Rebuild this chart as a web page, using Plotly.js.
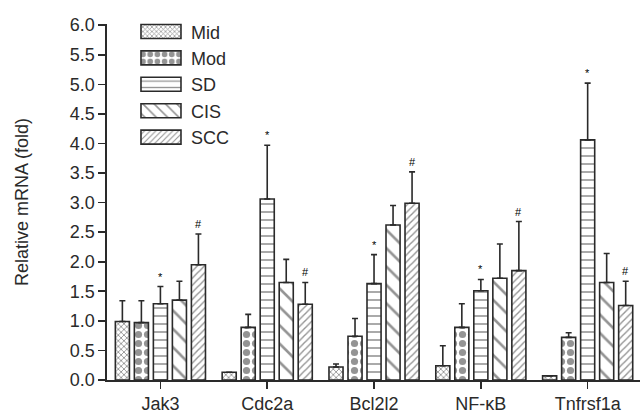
<!DOCTYPE html>
<html>
<head>
<meta charset="utf-8">
<script src="https://cdn.plot.ly/plotly-3.0.1.min.js"></script>
<style>html,body{margin:0;padding:0;background:#fff;}#chart{width:640px;height:413px;}</style>
</head>
<body>
<div id="chart"></div>
<script>
const categories = ["Jak3", "Cdc2a", "Bcl2l2", "NF-κB", "Tnfrsf1a"];
const seriesNames = ["Mid", "Mod", "SD", "CIS", "SCC"];
const midVals = [0.99, 0.13, 0.22, 0.24, 0.07];
const midErr  = [0.35, 0.00, 0.05, 0.34, 0.00];
const modVals = [0.97, 0.89, 0.74, 0.89, 0.72];
const modErr  = [0.37, 0.22, 0.30, 0.40, 0.08];
const sdVals  = [1.29, 3.06, 1.63, 1.51, 4.06];
const sdErr   = [0.29, 0.91, 0.49, 0.19, 0.96];
const cisVals = [1.35, 1.65, 2.62, 1.72, 1.65];
const cisErr  = [0.32, 0.39, 0.33, 0.58, 0.49];
const sccVals = [1.95, 1.28, 2.99, 1.85, 1.26];
const sccErr  = [0.52, 0.37, 0.53, 0.83, 0.41];
const sdMarks  = ["*", "*", "*", "*", "*"];
const sccMarks = ["#", "#", "#", "#", "#"];
const yTicks = [0, 0.5, 1, 1.5, 2, 2.5, 3, 3.5, 4, 4.5, 5, 5.5, 6];

const values = [midVals, modVals, sdVals, cisVals, sccVals];
const errs = [midErr, modErr, sdErr, cisErr, sccErr];
const patterns = [
  {shape: "x", size: 4, solidity: 0.4},
  {shape: ".", size: 9, solidity: 0.5},
  {shape: "-", size: 8, solidity: 0.2},
  {shape: "\\", size: 13, solidity: 0.2},
  {shape: "/", size: 5, solidity: 0.28}
];
const ink = "#2a2a2a";
const bargap = 0.11;

const data = seriesNames.map((name, i) => ({
  type: "bar",
  name: name,
  x: categories,
  y: values[i],
  marker: {
    color: "#ffffff",
    line: {color: ink, width: 1.6},
    pattern: Object.assign({fgcolor: ink, bgcolor: "#ffffff", fillmode: "overlay"}, patterns[i])
  },
  error_y: {
    type: "data", symmetric: false, array: errs[i],
    arrayminus: errs[i].map(() => 0),
    color: ink, thickness: 1.6, width: 3
  }
}));

const slot = (1 - bargap) / seriesNames.length;
const annotations = [];
function addMarks(marks, idx) {
  marks.forEach((m, c) => {
    annotations.push({
      x: c + (idx - (seriesNames.length - 1) / 2) * slot,
      y: values[idx][c] + errs[idx][c],
      xref: "x", yref: "y",
      text: m, showarrow: false, yanchor: "bottom", yshift: 2,
      font: {family: "Liberation Sans, Arial, sans-serif", size: 11, color: "#000000"}
    });
  });
}
addMarks(sdMarks, 2);
addMarks(sccMarks, 4);

const layout = {
  width: 640, height: 413,
  margin: {l: 107, r: 0, t: 24, b: 33},
  paper_bgcolor: "#ffffff", plot_bgcolor: "#ffffff",
  font: {family: "Liberation Sans, Arial, sans-serif", color: ink, size: 18},
  barmode: "group", bargap: bargap, bargroupgap: 0.26,
  showlegend: true,
  legend: {x: 0.045, y: 1.03, xanchor: "left", yanchor: "top", bgcolor: "rgba(0,0,0,0)",
           font: {size: 18}, itemwidth: 50},
  xaxis: {
    type: "category", range: [-0.5, 4.49], showline: true, linecolor: ink, linewidth: 1.6,
    ticks: "outside", ticklen: 7, tickwidth: 1.6, tickcolor: ink, showgrid: false, zeroline: false,
    tickfont: {size: 18}, fixedrange: true
  },
  yaxis: {
    range: [0, 6.02], tickvals: yTicks, tickformat: ".1f", showline: true, linecolor: ink, linewidth: 1.6,
    ticks: "outside", ticklen: 7, tickwidth: 1.6, tickcolor: ink, showgrid: false, zeroline: false,
    tickfont: {size: 18},
    title: {text: "Relative mRNA (fold)", font: {size: 18}, standoff: 36}
  },
  annotations: annotations
};

Plotly.newPlot("chart", data, layout, {displayModeBar: false, staticPlot: true}).then(gd => {
  // widen the legend swatches to match the wide boxes of the original figure
  gd.querySelectorAll(".legend .legendpoints path.legendundefined, .legend .legendpoints path").forEach(p => {
    p.setAttribute("d", "M20,7H-20V-7H20Z");
  });
});
</script>
</body>
</html>
